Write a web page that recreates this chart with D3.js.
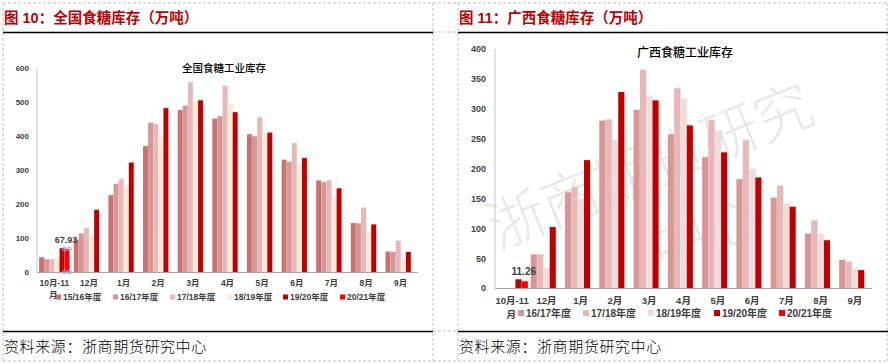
<!DOCTYPE html>
<html>
<head>
<meta charset="utf-8">
<script src="https://cdn.jsdelivr.net/npm/d3@7"></script>
<style>
  body { margin: 0; background: #fff; }
  svg text { font-family: "Liberation Sans", "Noto Sans CJK SC", sans-serif; }
</style>
</head>
<body>
<div id="chart"></div>
<script>
// ---- data ----
const months = ["10月-11月", "12月", "1月", "2月", "3月", "4月", "5月", "6月", "7月", "8月", "9月"];

// 全国食糖工业库存 (万吨)
const nationalSeries = ["15/16年度", "16/17年度", "17/18年度", "18/19年度", "19/20年度", "20/21年度"];
const nat1516 = [43, 95, 226, 370, 476, 451, 405, 330, 269, 144, 60];
const nat1617 = [37, 113, 259, 439, 489, 458, 399, 324, 264, 143, 59];
const nat1718 = [37, 128, 273, 435, 558, 547, 455, 379, 269, 189, 92];
const nat1819 = [40, 109, 251, 398, 500, 490, 407, 316, 220, 116, 36];
const nat1920 = [70, 183, 322, 482, 505, 470, 410, 335, 246, 140, 59];
const nat2021 = [67.93, null, null, null, null, null, null, null, null, null, null];
const nationalTicks = [0, 100, 200, 300, 400, 500, 600];

// 广西食糖工业库存 (万吨)
const gxSeries = ["16/17年度", "17/18年度", "18/19年度", "19/20年度", "20/21年度"];
const gx1617 = [null, 56, 160, 280, 298, 257, 219, 182, 151, 91, 47];
const gx1718 = [null, 56, 168, 282, 365, 334, 281, 247, 171, 113, 44];
const gx1819 = [null, 33, 148, 247, 321, 316, 262, 198, 141, 90, 32];
const gx1920 = [14.5, 102, 214, 328, 314, 272, 227, 185, 136, 80, 30];
const gx2021 = [11.26, null, null, null, null, null, null, null, null, null, null];
const gxTicks = [0, 50, 100, 150, 200, 250, 300, 350, 400];

const svg = d3.select("#chart").append("svg")
  .attr("width", 890)
  .attr("height", 364);

svg.append("rect").attr("width", 890).attr("height", 364).attr("fill", "#fff");

// table frame (dashed cell borders)
const dash = "3,2";
[3, 433, 458, 887].forEach(x => {
  svg.append("line").attr("x1", x).attr("x2", x).attr("y1", 3).attr("y2", 361)
    .attr("stroke", "#c0c0c0").attr("stroke-dasharray", dash);
});
[3, 361].forEach(y => {
  svg.append("line").attr("x1", 3).attr("x2", 887).attr("y1", y).attr("y2", y)
    .attr("stroke", "#c0c0c0").attr("stroke-dasharray", dash);
});
[32, 331].forEach(y => {
  svg.append("line").attr("x1", 433).attr("x2", 458).attr("y1", y).attr("y2", y)
    .attr("stroke", "#c0c0c0").attr("stroke-dasharray", dash);
});

function drawPanel(p) {
  const g = svg.append("g");

  // header + footer
  g.append("text").attr("x", p.left + 1).attr("y", 23)
    .attr("fill", "#c00000").style("font-size", "14.5px").style("font-weight", "bold")
    .text(p.title);
  g.append("line").attr("x1", p.left).attr("x2", p.left + 430).attr("y1", 32.5).attr("y2", 32.5)
    .attr("stroke", "#000").attr("stroke-width", 1.5);
  g.append("line").attr("x1", p.left).attr("x2", p.left + 430).attr("y1", 331.5).attr("y2", 331.5)
    .attr("stroke", "#000").attr("stroke-width", 1.5);
  g.append("text").attr("x", p.left + 1).attr("y", 352)
    .attr("fill", "#000").style("font-size", "15px").style("letter-spacing", "0.6px")
    .style("font-family", "'Noto Sans CJK SC', sans-serif").style("font-weight", 300)
    .text("资料来源：浙商期货研究中心");

  // watermark
  if (p.watermark) {
    g.append("text")
      .attr("transform", "translate(498,250) rotate(-22)")
      .attr("fill", "#000").attr("fill-opacity", 0.09)
      .style("font-size", "58px").style("font-family", "'Noto Sans CJK SC', sans-serif").style("font-weight", 300)
      .attr("textLength", 345)
      .text("浙商期货研究");
    g.append("text")
      .attr("transform", "translate(660,272) rotate(-22)")
      .attr("fill", "#000").attr("fill-opacity", 0.09)
      .style("font-size", "58px").style("font-family", "'Noto Sans CJK SC', sans-serif").style("font-weight", 300)
      .text("中心");
  }

  const x = d3.scaleBand().domain(months).range([p.x0, p.x1]).paddingInner(p.padIn).paddingOuter(p.padIn / 2);
  const xs = d3.scaleBand().domain(p.series).range([0, x.bandwidth()]).padding(0.04);
  const y = d3.scaleLinear().domain([0, p.ticks[p.ticks.length - 1]]).range([p.y0, p.yTop]);

  // chart title
  g.append("text").attr("x", p.titleX).attr("y", p.titleY).attr("text-anchor", "middle")
    .attr("fill", "#000").style("font-size", p.titleSize + "px")
    .style("font-family", "'Noto Sans CJK SC', sans-serif").style("font-weight", 500)
    .text(p.chartTitle);

  // y axis
  const yAxis = g.append("g").attr("transform", `translate(${p.x0},0)`)
    .call(d3.axisLeft(y).tickValues(p.ticks).tickSize(0).tickPadding(p.tickPad));
  yAxis.select(".domain").remove();
  yAxis.selectAll("text").attr("fill", "#404040")
    .style("font-size", p.fs + "px").style("font-weight", "bold").style("font-family", "'Liberation Sans', sans-serif");
  g.append("line").attr("x1", p.x0).attr("x2", p.x0).attr("y1", p.yTop).attr("y2", p.y0)
    .attr("stroke", "#d9d9d9").attr("stroke-width", 1.5);

  // bars
  const rows = [];
  p.series.forEach((s, si) => {
    p.values[si].forEach((v, mi) => {
      if (v != null) rows.push({ s: s, si: si, m: months[mi], v: v });
    });
  });

  // light shadow like the source
  g.selectAll(".shadow").data(rows).join("rect")
    .attr("x", d => x(d.m) + xs(d.s) + 1)
    .attr("y", d => y(d.v) - 1)
    .attr("width", xs.bandwidth())
    .attr("height", d => p.y0 - y(d.v) + 1)
    .attr("fill", "#000").attr("fill-opacity", 0.07);

  g.selectAll(".bar").data(rows).join("rect")
    .attr("x", d => x(d.m) + xs(d.s))
    .attr("y", d => y(d.v))
    .attr("width", xs.bandwidth())
    .attr("height", d => p.y0 - y(d.v))
    .attr("fill", d => p.colors[d.si]);

  // x axis
  g.append("line").attr("x1", p.x0).attr("x2", p.x1).attr("y1", p.y0 + 0.5).attr("y2", p.y0 + 0.5)
    .attr("stroke", "#a6a6a6").attr("stroke-width", 1.2);
  const xAxis = g.append("g").attr("transform", `translate(0,${p.y0})`)
    .call(d3.axisBottom(x).tickSize(0).tickPadding(p.xPad).tickFormat(d => d === "10月-11月" ? "10月-11" : d));
  xAxis.select(".domain").remove();
  xAxis.selectAll("text").attr("fill", "#404040")
    .style("font-size", p.fs + 0.5 + "px").style("font-weight", "bold");
  xAxis.append("text").attr("x", x(months[0]) + x.bandwidth() / 2 - 1).attr("y", p.xPad + p.fs * 2.3)
    .attr("text-anchor", "middle").attr("fill", "#404040")
    .style("font-size", p.fs + 0.5 + "px").style("font-weight", "bold").text("月");

  // data label on 20/21 bar
  const last = p.series[p.series.length - 1];
  const lv = p.values[p.series.length - 1][0];
  const lx = x(months[0]) + xs(last) + xs.bandwidth() / 2;
  g.append("text").attr("x", lx + p.labelDx).attr("y", y(lv) - 6).attr("text-anchor", "middle")
    .attr("fill", "#404040").style("font-size", p.fs + 1 + "px").style("font-weight", "bold")
    .text(d3.format(".2f")(lv));

  if (p.handles) {
    const bx = x(months[0]) + xs(last);
    [[bx, y(lv)], [bx + xs.bandwidth(), y(lv)], [bx, p.y0], [bx + xs.bandwidth(), p.y0]].forEach(c => {
      g.append("circle").attr("cx", c[0]).attr("cy", c[1]).attr("r", 2)
        .attr("fill", "none").attr("stroke", "#8eb4e3").attr("stroke-width", 1);
    });
  }

  // legend
  const lg = g.selectAll(".leg").data(p.series).join("g")
    .attr("transform", (d, i) => `translate(${p.legX[i]},${p.legY})`);
  lg.append("rect").attr("x", 0).attr("y", -p.sq / 2).attr("width", p.sq).attr("height", p.sq)
    .attr("fill", (d, i) => p.colors[i]);
  lg.append("text").attr("x", p.sq + 2).attr("y", 0).attr("dy", "0.36em")
    .attr("fill", "#404040").style("font-size", p.legFs + "px").style("font-weight", "bold")
    .text(d => d);
}

drawPanel({
  left: 3,
  title: "图 10：全国食糖库存（万吨）",
  chartTitle: "全国食糖工业库存", titleX: 224, titleY: 72, titleSize: 10.5,
  series: nationalSeries,
  values: [nat1516, nat1617, nat1718, nat1819, nat1920, nat2021],
  colors: ["#c87373", "#d99694", "#e6b9b8", "#fde9d9", "#c00000", "#ff0000"],
  ticks: nationalTicks,
  x0: 37, x1: 418, y0: 272, yTop: 68, padIn: 0.11,
  fs: 8, tickPad: 8, xPad: 8,
  labelDx: -1, handles: true,
  legX: [56, 113, 170, 227, 283, 340], legY: 297, sq: 5, legFs: 8.5,
  watermark: false
});

drawPanel({
  left: 458,
  title: "图 11：广西食糖库存（万吨）",
  chartTitle: "广西食糖工业库存", titleX: 685, titleY: 57, titleSize: 12,
  series: gxSeries,
  values: [gx1617, gx1718, gx1819, gx1920, gx2021],
  colors: ["#d99694", "#e6b9b8", "#f2dcdb", "#c00000", "#ff0000"],
  ticks: gxTicks,
  x0: 495, x1: 872, y0: 288, yTop: 49, padIn: 0.07,
  fs: 9, tickPad: 9, xPad: 9,
  labelDx: -1, handles: false,
  legX: [518, 583, 648, 714, 779], legY: 313, sq: 6, legFs: 10,
  watermark: true
});
</script>
</body>
</html>
